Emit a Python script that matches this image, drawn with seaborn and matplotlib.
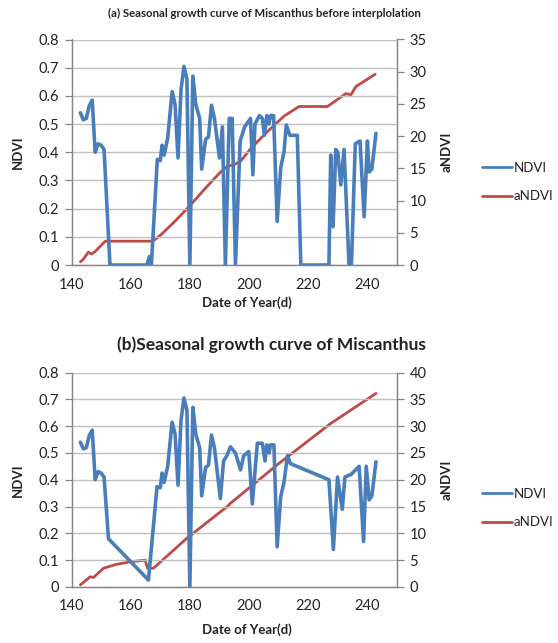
import matplotlib
matplotlib.use("Agg")
import matplotlib.pyplot as plt
import seaborn as sns
from matplotlib.lines import Line2D

# ---------------- data ----------------
days_a = [143, 144, 145, 146, 147, 148, 149, 150, 151, 153, 165.5, 166.3, 167,
          169, 170, 170.6, 171.3, 172.5, 174, 175, 176, 177, 178, 179, 180, 181,
          182, 183.3, 184, 185.3, 186.3, 187.3, 188.3, 190, 191, 192, 193.3,
          194.3, 195.4, 197, 198.5, 200.5, 201.3, 202, 203.5, 204.5, 205.2, 206,
          206.7, 207.3, 208.3, 209.5, 210.7, 211.8, 212.6, 213.8, 216.3, 217.5,
          227, 227.6, 228.4, 229.3, 230, 231, 232.1, 233.8, 234.6, 235.9, 237.5,
          238.9, 240, 240.6, 241.5, 242.9]
ndvi_a = [0.54, 0.515, 0.52, 0.565, 0.585, 0.40, 0.43, 0.425, 0.41, 0.0, 0.0, 0.03, 0.0,
          0.375, 0.37, 0.425, 0.39, 0.45, 0.615, 0.57, 0.38, 0.62, 0.705, 0.66, 0.0, 0.67,
          0.57, 0.52, 0.34, 0.445, 0.455, 0.567, 0.52, 0.38, 0.49, 0.0, 0.52,
          0.52, 0.0, 0.44, 0.49, 0.52, 0.32, 0.50, 0.53, 0.52, 0.46, 0.53,
          0.50, 0.53, 0.53, 0.155, 0.345, 0.40, 0.497, 0.46, 0.46, 0.0,
          0.0, 0.39, 0.136, 0.41, 0.40, 0.284, 0.41, 0.0, 0.0, 0.43, 0.44,
          0.171, 0.44, 0.33, 0.34, 0.467]

adays_a = [143, 144, 145.7, 146.8, 148, 151.4, 167.5, 170, 175, 180.2, 185, 190.3,
           192.6, 195, 197.1, 201, 206.2, 211.8, 216.9, 226.5, 232.7, 234.4, 236.1, 242.6]
andvi_a = [0.5, 0.9, 2.0, 1.7, 2.1, 3.7, 3.7, 4.6, 6.8, 9.3, 11.8, 14.4,
           15.3, 15.6, 16.1, 18.3, 20.7, 23.1, 24.6, 24.6, 26.6, 26.4, 27.7, 29.6]

days_b = [143, 144, 145, 146, 147, 148, 149, 150, 151, 152.5, 166, 168.9, 170,
          170.6, 171.3, 172.5, 174, 175, 176, 177, 178, 179, 180, 181, 182, 183.3,
          184, 185.3, 186.3, 187.3, 188.3, 190.3, 191.4, 192.5, 193.7, 195.4,
          197.1, 198.2, 199.9, 201.1, 202.8, 204.5, 205.4, 206, 206.8, 207.2,
          208.4, 209.5, 210.7, 211.8, 213, 214, 227, 228.5, 229.9, 231.5, 232.4,
          234.5, 237.2, 238.7, 239.6, 240.6, 241.5, 242.9]
ndvi_b = [0.54, 0.515, 0.52, 0.565, 0.585, 0.40, 0.43, 0.425, 0.41, 0.18, 0.026, 0.374, 0.37,
          0.425, 0.39, 0.45, 0.615, 0.57, 0.38, 0.62, 0.705, 0.66, 0.0, 0.67, 0.57, 0.52,
          0.34, 0.445, 0.455, 0.567, 0.52, 0.33, 0.47, 0.49, 0.523, 0.50,
          0.437, 0.49, 0.505, 0.31, 0.536, 0.536, 0.47, 0.53, 0.50, 0.53,
          0.53, 0.15, 0.337, 0.39, 0.49, 0.46, 0.40, 0.14, 0.41, 0.29, 0.41,
          0.42, 0.45, 0.17, 0.45, 0.325, 0.34, 0.467]

adays_b = [143, 146.3, 147.5, 150.8, 155, 159.8, 164.9, 165.7, 167.7, 179, 192.6,
           193.7, 210, 227.6, 242.9]
andvi_b = [0.4, 1.9, 1.8, 3.5, 4.2, 4.7, 5.0, 3.5, 3.5, 9.1, 15.0,
           15.6, 23.0, 30.5, 36.1]

x_ticks = [140, 160, 180, 200, 220, 240]
ndvi_ticks = [0, 0.1, 0.2, 0.3, 0.4, 0.5, 0.6, 0.7, 0.8]
andvi_ticks_a = [0, 5, 10, 15, 20, 25, 30, 35]
andvi_ticks_b = [0, 5, 10, 15, 20, 25, 30, 35, 40]

title_a = "(a) Seasonal growth curve of Miscanthus before interplolation"
title_b = "(b)Seasonal growth curve of Miscanthus"

# ---------------- style ----------------
sns.set_style("white")
plt.rcParams["font.family"] = ["Lato", "DejaVu Sans"]

BLUE = "#4A7EBB"
RED = "#BE4B48"
GRID = "#BFBFBF"
AX = "#868686"
TXT = "#222222"

W, H = 558, 643
fig = plt.figure(figsize=(W / 100, H / 100), dpi=100)


def fx(px):
    return px / W


def fy(py):
    return 1 - py / H


def panel(top, bottom, days, ndvi, adays, andvi, aticks, amax):
    ax = fig.add_axes([fx(71.5), fy(bottom), fx(397) - fx(71.5), fy(top) - fy(bottom)])
    ax2 = ax.twinx()
    sns.lineplot(x=days, y=ndvi, ax=ax, color=BLUE, linewidth=2.6,
                 estimator=None, sort=False)
    sns.lineplot(x=adays, y=andvi, ax=ax2, color=RED, linewidth=2.0,
                 estimator=None, sort=False)
    ax.set_xlim(140, 250)
    ax.set_ylim(0, 0.8)
    ax2.set_ylim(0, amax)
    ax.set_xticks(x_ticks)
    ax.set_yticks(ndvi_ticks)
    ax.set_yticklabels(["0" if t == 0 else f"{t:.1f}" for t in ndvi_ticks])
    ax2.set_yticks(aticks)
    ax.yaxis.grid(True, color=GRID, linewidth=1.0)
    ax.set_axisbelow(True)
    for a in (ax, ax2):
        a.spines["top"].set_visible(False)
        for s in ("left", "right", "bottom"):
            a.spines[s].set_color(AX)
            a.spines[s].set_linewidth(0.9)
        a.tick_params(axis="both", which="major", direction="out", length=5,
                      width=0.9, color=AX, labelsize=10.5, labelcolor=TXT, pad=4)
        a.set_xlabel("")
        a.set_ylabel("")
    ax.set_zorder(ax2.get_zorder() + 1)
    ax.patch.set_visible(False)
    return ax, ax2


ax_a, ax2_a = panel(39.5, 265, days_a, ndvi_a, adays_a, andvi_a, andvi_ticks_a, 35)
ax_b, ax2_b = panel(372.5, 587, days_b, ndvi_b, adays_b, andvi_b, andvi_ticks_b, 40)

fig.text(fx(264), fy(13), title_a, ha="center", va="center", fontsize=8.2,
         fontweight="bold", color=TXT)
fig.text(fx(271), fy(345), title_b, ha="center", va="center", fontsize=12.5,
         fontweight="bold", color=TXT)

for ycen, xl_y in ((152, 303), (480, 630)):
    fig.text(fx(18), fy(ycen), "NDVI", rotation=90, ha="center", va="center",
             fontsize=9.5, fontweight="bold", color=TXT)
    fig.text(fx(447), fy(ycen), "aNDVI", rotation=90, ha="center", va="center",
             fontsize=9.5, fontweight="bold", color=TXT)
    fig.text(fx(247), fy(xl_y), "Date of Year(d)", ha="center", va="center",
             fontsize=9.5, fontweight="bold", color=TXT)

handles = [Line2D([], [], color=BLUE, linewidth=2.0),
           Line2D([], [], color=RED, linewidth=2.0)]
for ycen in (182, 508):
    fig.legend(handles, ["NDVI", "aNDVI"], loc="center left",
               bbox_to_anchor=(fx(482), fy(ycen)), frameon=False, fontsize=9.5,
               handlelength=2.3, handletextpad=0.1, labelspacing=1.25,
               borderpad=0, borderaxespad=0, labelcolor=TXT)

fig.savefig("out.png", dpi=100)
